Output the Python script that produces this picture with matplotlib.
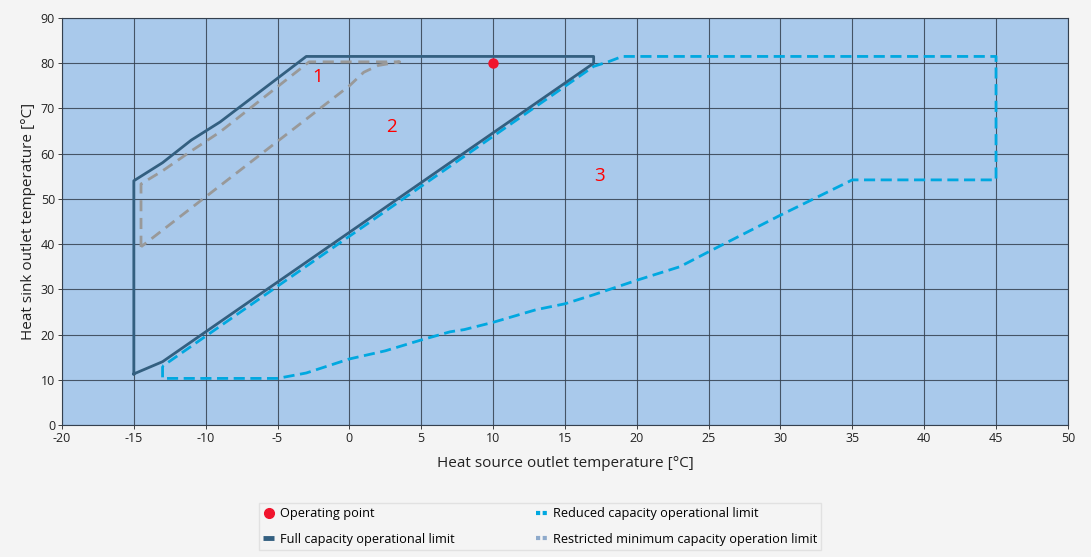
import matplotlib
matplotlib.use("Agg")
import matplotlib.pyplot as plt
from matplotlib.lines import Line2D

plt.rcParams['font.family'] = ['Open Sans', 'DejaVu Sans']
plt.rcParams['axes.unicode_minus'] = False

# Full capacity operational limit (solid)
full_x = [-15, -15, -13, -11, -9, -3, 17, 17, -13, -15]
full_y = [11.3, 54, 58, 63, 67, 81.5, 81.5, 80, 14, 11.3]

# Restricted minimum capacity operation limit (grey dashed)
restr_x = [-14.5, -14.5, -13, -11, -9, -2.8, 3.5, 2, 1, 0, -14.5]
restr_y = [39.4, 53.3, 56.2, 60.6, 64.8, 80.3, 80.3, 79.5, 78, 75, 39.4]

# Reduced capacity operational limit (blue dashed)
red_x = [-13, -13, -5, -3, 0, 2.5, 5, 7, 8, 10, 13, 15, 17, 20, 23, 25, 30, 35,
         45, 45, 19, 18, 17, -13]
red_y = [13, 10.3, 10.3, 11.5, 14.6, 16.4, 18.8, 20.6, 21.1, 22.7, 25.5, 26.8,
         28.8, 32, 35, 38.3, 46.4, 54.2, 54.2, 81.5, 81.5, 80.3, 79.3, 13]

# Operating point
op_x = [10]
op_y = [80]

# Region labels
region_labels = ["1", "2", "3"]
region_x = [-2.2, 2.9, 17.4]
region_y = [77, 66, 55]

xticks = list(range(-20, 51, 5))
yticks = list(range(0, 91, 10))

C_FULL = '#335f80'
C_RED = '#00a8e0'
C_GREY = '#999999'
C_RESTR_LEG = '#8eaacb'

fig = plt.figure(figsize=(10.91, 5.57), dpi=100, facecolor='#f4f4f4')
ax = fig.add_axes([0.0568, 0.237, 0.922, 0.7307])
ax.set_facecolor('#a9c9eb')

ax.set_xlim(-20, 50)
ax.set_ylim(0, 90)
ax.set_xticks(xticks)
ax.set_yticks(yticks)
ax.grid(True, color='#34404f', linewidth=0.8, alpha=0.85)
ax.set_axisbelow(True)
for s in ax.spines.values():
    s.set_color('#34404f')
    s.set_linewidth(0.8)
ax.tick_params(axis='both', labelsize=9, colors='#222222', length=3, width=0.6, pad=2)

ax.plot(restr_x, restr_y, color=C_GREY, lw=2.0, dashes=(4, 2.4), zorder=3)
ax.plot(red_x, red_y, color=C_RED, lw=2.0, dashes=(4, 2), zorder=3)
ax.plot(full_x, full_y, color=C_FULL, lw=2.0, zorder=4)
ax.plot(op_x, op_y, 'o', color='#f0142d', markersize=6.5, zorder=5)

for t, x, y in zip(region_labels, region_x, region_y):
    ax.text(x, y, t, color='#ff0000', fontsize=13.5, ha='center', va='center', zorder=6)

ax.set_xlabel('Heat source outlet temperature [°C]', fontsize=11, color='#222222', labelpad=8)
ax.set_ylabel('Heat sink outlet temperature [°C]', fontsize=11, color='#222222', labelpad=3)

handles = [
    Line2D([], [], color='#f0142d', marker='o', linestyle='None', markersize=7),
    Line2D([], [], color=C_FULL, lw=3.5, solid_capstyle='butt'),
    Line2D([], [], color=C_RED, lw=3, linestyle=(0, (1, 0.6)), dash_capstyle='butt'),
    Line2D([], [], color=C_RESTR_LEG, lw=3, linestyle=(0, (1, 0.6)), dash_capstyle='butt'),
]
labels = ['Operating point', 'Full capacity operational limit',
          'Reduced capacity operational limit',
          'Restricted minimum capacity operation limit']
leg = fig.legend(handles, labels, ncol=2, loc='center', bbox_to_anchor=(0.495, 0.0548),
                 fontsize=9.2, frameon=True, handlelength=0.85, handletextpad=0.45,
                 columnspacing=6.4, labelspacing=1.0, borderpad=0.35,
                 facecolor='#f4f4f4', edgecolor='#dddddd', fancybox=False)
leg.get_frame().set_linewidth(1.0)

fig.savefig('out.png', dpi=100, facecolor=fig.get_facecolor())
